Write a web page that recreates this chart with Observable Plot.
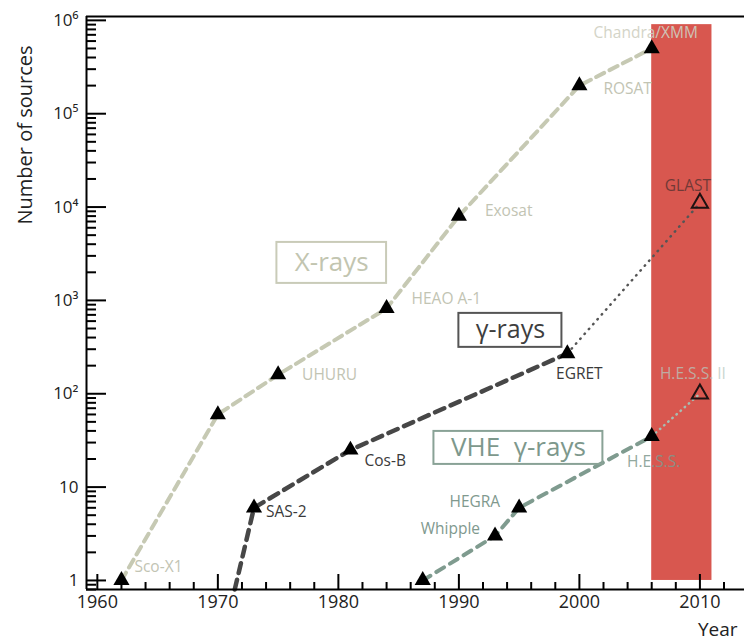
<!DOCTYPE html>
<html><head><meta charset="utf-8">
<script src="https://cdn.jsdelivr.net/npm/d3@7"></script>
<script src="https://cdn.jsdelivr.net/npm/@observablehq/plot@0.6"></script>
<style>body{margin:0;background:#fff;}</style>
</head><body><div id="chart"></div>
<script>
// ---- data ----
const xrayYears  = [1962, 1970, 1975, 1984, 1990, 2000, 2006];
const xrayCounts = [1, 60, 160, 820, 8000, 200000, 500000];
const xrayNames  = ["Sco-X1", "", "UHURU", "HEAO A-1", "Exosat", "ROSAT", "Chandra/XMM"];

const gammaLineYears  = [1971.4, 1973, 1981, 1999];
const gammaLineCounts = [0.8, 6, 25, 270];
const gammaYears  = [1973, 1981, 1999];
const gammaCounts = [6, 25, 270];
const gammaNames  = ["SAS-2", "Cos-B", "EGRET"];
const gammaFutureYears  = [1999, 2010];
const gammaFutureCounts = [270, 11000];

const vheYears  = [1987, 1993, 1995, 2006];
const vheCounts = [1, 3, 6, 35];
const vheNames  = ["", "Whipple", "HEGRA", "H.E.S.S."];
const vheFutureYears  = [2006, 2010];
const vheFutureCounts = [35, 100];

const futureYears  = [2010, 2010];
const futureCounts = [11000, 100];
const futureNames  = ["GLAST", "H.E.S.S. II"];

const bandYears  = [2006, 2011];
const bandCounts = [1, 900000];

const legendNames  = ["X-rays", "\u03b3-rays", "VHE  \u03b3-rays"];
const legendYears  = [[1974.9, 1984.0], [1990.0, 1998.55], [1987.93, 2001.95]];
const legendCounts = [[1521, 4180], [314, 726], [17.5, 39.5]];

const xDomain = [1959.1, 2013.7];
const yDomain = [0.8, 1.1e6];
const xTickValues = [1960, 1970, 1980, 1990, 2000, 2010];
const xTickLabels = ["1960", "1970", "1980", "1990", "2000", "2010"];
const yTickValues = [1, 10, 100, 1000, 10000, 100000, 1000000];
const yTickLabels = ["1", "10", "10\u00b2", "10\u00b3", "10\u2074", "10\u2075", "10\u2076"];
const xLabel = "Year";
const yLabel = "Number of sources";

// ---- tables ----
const rows = (xs, ys, names) => xs.map((x, i) => ({x, y: ys[i], name: names ? names[i] : ""}));
const xray = rows(xrayYears, xrayCounts, xrayNames);
const gammaLine = rows(gammaLineYears, gammaLineCounts);
const gamma = rows(gammaYears, gammaCounts, gammaNames);
const gammaFuture = rows(gammaFutureYears, gammaFutureCounts);
const vhe = rows(vheYears, vheCounts, vheNames);
const vheFuture = rows(vheFutureYears, vheFutureCounts);
const future = rows(futureYears, futureCounts, futureNames);
const band = [{x1: bandYears[0], x2: bandYears[1], y1: bandCounts[0], y2: bandCounts[1]}];
const legends = legendNames.map((name, i) => ({
  name, x1: legendYears[i][0], x2: legendYears[i][1], y1: legendCounts[i][0], y2: legendCounts[i][1]
}));

// minor tick positions
const xMinor = d3.range(1960, 2014, 2).filter(v => v % 10 !== 0);
const yMinor = [];
for (let k = -1; k <= 5; k++) for (let m = 2; m <= 9; m++) {
  const v = m * Math.pow(10, k);
  if (v >= yDomain[0] && v <= yDomain[1]) yMinor.push(v);
}

// ---- styles ----
const C_X = "#c6c9b3", C_XT = "#c2c4b3";
const C_G = "#474747", C_GT = "#3a3a3a";
const C_V = "#7f9b8f", C_VT = "#80998e";
const labelStyle = {
  "Sco-X1":      {dx: 13, dy: -13, textAnchor: "start", fill: C_XT},
  "UHURU":       {dx: 24, dy: 0, textAnchor: "start", fill: C_XT},
  "HEAO A-1":    {dx: 25, dy: -9, textAnchor: "start", fill: C_XT},
  "Exosat":      {dx: 26, dy: -5, textAnchor: "start", fill: C_XT},
  "ROSAT":       {dx: 24, dy: 3, textAnchor: "start", fill: C_XT},
  "Chandra/XMM": {dx: -6, dy: -15, textAnchor: "middle", fill: "#cfd0c2", opacity: 0.9},
  "SAS-2":       {dx: 12, dy: 4, textAnchor: "start", fill: C_GT},
  "Cos-B":       {dx: 14, dy: 11, textAnchor: "start", fill: C_GT},
  "EGRET":       {dx: 12, dy: 21, textAnchor: "middle", fill: C_GT},
  "GLAST":       {dx: -12, dy: -17, textAnchor: "middle", fill: "#3a2a2a", opacity: 0.65},
  "Whipple":     {dx: -15, dy: -7, textAnchor: "end", fill: C_VT},
  "HEGRA":       {dx: -19, dy: -6, textAnchor: "end", fill: C_VT},
  "H.E.S.S.":    {dx: 2, dy: 26, textAnchor: "middle", fill: C_VT, opacity: 0.85},
  "H.E.S.S. II": {dx: -7, dy: -20, textAnchor: "middle", fill: "#b7c8bf", opacity: 0.75}
};
const legendStyle = [
  {stroke: "#c9cbb8", fill: "#c2c5b0", fontSize: 26},
  {stroke: "#555555", fill: "#3e3e3e", fontSize: 25},
  {stroke: "#89a296", fill: "#7d988c", fontSize: 26}
];

const labelMarks = [...xray, ...gamma, ...vhe, ...future]
  .filter(d => d.name)
  .map(d => Plot.text([d], {x: "x", y: "y", text: "name", fontSize: 15.5, lineAnchor: "middle",
    ...labelStyle[d.name]}));

const legendMarks = legends.flatMap((d, i) => [
  Plot.rect([d], {x1: "x1", x2: "x2", y1: "y1", y2: "y2", fill: "none",
    stroke: legendStyle[i].stroke, strokeWidth: 2}),
  Plot.text([d], {x: d => (d.x1 + d.x2) / 2, y: d => Math.sqrt(d.y1 * d.y2), text: "name",
    fontSize: legendStyle[i].fontSize, fill: legendStyle[i].fill, lineAnchor: "middle"})
]);

const plotW = 744 - 86, plotH = 643 - 16 - 54;

const chart = Plot.plot({
  width: 744, height: 643,
  marginLeft: 86, marginRight: 0, marginTop: 16, marginBottom: 54,
  x: {domain: xDomain},
  y: {type: "log", domain: yDomain},
  style: {fontFamily: "'Open Sans', sans-serif", fontSize: "17px", color: "#222", background: "#fff"},
  marks: [
    Plot.rect(band, {x1: "x1", x2: "x2", y1: "y1", y2: "y2", fill: "#d8574f"}),
    // lines
    Plot.line(xray, {x: "x", y: "y", stroke: C_X, strokeWidth: 4, strokeDasharray: "9,6"}),
    Plot.line(gammaLine, {x: "x", y: "y", stroke: C_G, strokeWidth: 4.5, strokeDasharray: "10,7"}),
    Plot.line(gammaFuture, {x: "x", y: "y", stroke: "#555", strokeWidth: 2.5, strokeDasharray: "0.5,6", strokeLinecap: "round"}),
    Plot.line(vhe, {x: "x", y: "y", stroke: C_V, strokeWidth: 4, strokeDasharray: "9,7"}),
    Plot.line(vheFuture, {x: "x", y: "y", stroke: "#a7bdb2", strokeWidth: 2.5, strokeDasharray: "0.5,5", strokeLinecap: "round"}),
    // markers
    Plot.dot([...xray, ...gamma, ...vhe], {x: "x", y: "y", symbol: "triangle", r: 6, fill: "#000"}),
    Plot.dot(future, {x: "x", y: "y", symbol: "triangle", r: 6, fill: "none", stroke: "#1e1212", strokeWidth: 2}),
    ...labelMarks,
    ...legendMarks,
    // frame
    Plot.ruleY([yDomain[0]], {stroke: "#000", strokeWidth: 2}),
    Plot.ruleY([yDomain[1]], {stroke: "#000", strokeWidth: 2}),
    Plot.ruleX([xDomain[0]], {stroke: "#000", strokeWidth: 2}),
    // ticks (inward)
    Plot.tickY(yTickValues, {y: d => d, stroke: "#000", strokeWidth: 2, insetRight: plotW - 20}),
    Plot.tickY(yMinor, {y: d => d, stroke: "#000", strokeWidth: 2, insetRight: plotW - 10}),
    Plot.tickX(xTickValues, {x: d => d, stroke: "#000", strokeWidth: 2, insetTop: plotH - 15}),
    Plot.tickX(xMinor, {x: d => d, stroke: "#000", strokeWidth: 2, insetTop: plotH - 7}),
    // axes
    Plot.axisY({ticks: yTickValues, tickSize: 0, tickPadding: 8, label: null, fontSize: 17,
      tickFormat: d => yTickLabels[yTickValues.indexOf(d)]}),
    Plot.axisX({ticks: xTickValues, tickSize: 0, tickPadding: 6, label: null, fontSize: 18,
      tickFormat: d => xTickLabels[xTickValues.indexOf(d)]}),
    Plot.text([yLabel], {frameAnchor: "top-left", text: d => d, rotate: -90, textAnchor: "end",
      lineAnchor: "middle", dx: -61, dy: 29, fontSize: 20, fill: "#222"}),
    Plot.text([xLabel], {frameAnchor: "bottom-right", text: d => d, textAnchor: "end",
      lineAnchor: "bottom", dx: -7, dy: 46, fontSize: 19, fill: "#222"})
  ]
});
document.getElementById("chart").appendChild(chart);
</script>
</body></html>
